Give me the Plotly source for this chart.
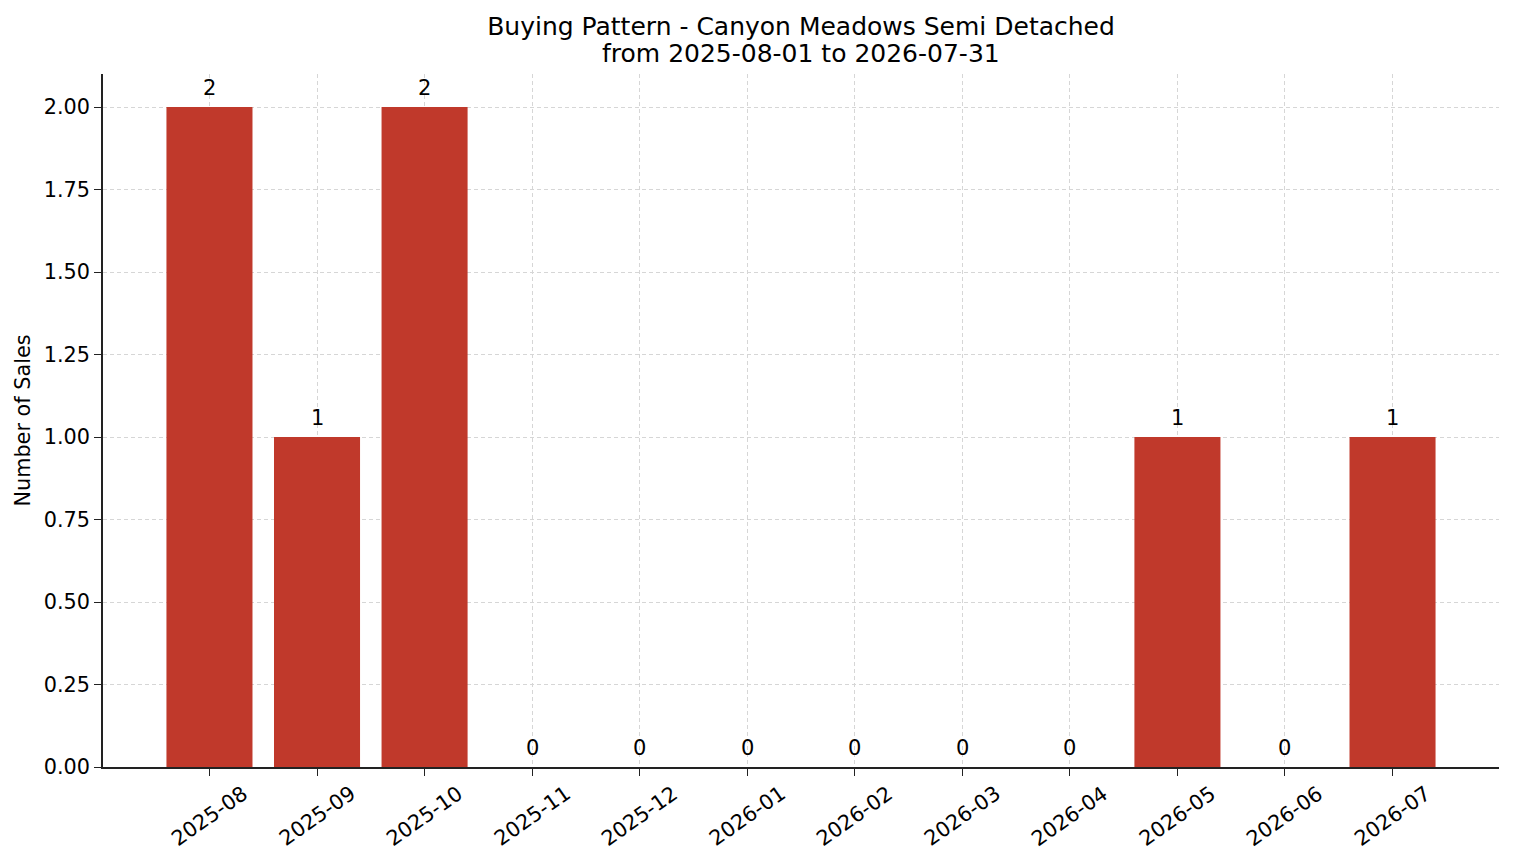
import plotly.graph_objects as go

# monthly sales counts
months = ["2025-08", "2025-09", "2025-10", "2025-11", "2025-12", "2026-01",
          "2026-02", "2026-03", "2026-04", "2026-05", "2026-06", "2026-07"]
sales = [2, 1, 2, 0, 0, 0, 0, 0, 0, 1, 0, 1]

title_line1 = "Buying Pattern - Canyon Meadows Semi Detached"
title_line2 = "from 2025-08-01 to 2026-07-31"

font = "DejaVu Sans"

fig = go.Figure()

fig.add_bar(x=months, y=sales, width=0.8, marker=dict(color="#c0392b", line=dict(width=0)),
            showlegend=False, hoverinfo="x+y")

# value labels above each bar
for m, v in zip(months, sales):
    fig.add_annotation(x=m, y=v, yref="y", text=str(v), showarrow=False,
                       xanchor="center", yanchor="bottom", yshift=5,
                       font=dict(family=font, size=21, color="black"))

# rotated month labels, centered under the ticks like matplotlib
for m in months:
    fig.add_annotation(x=m, y=0, yref="y", text=m, showarrow=False, textangle=-35,
                       xanchor="center", yanchor="middle", yshift=-49, xshift=0,
                       font=dict(family=font, size=20.8, color="black"))

# second title line (plotly's <br> line spacing is too loose)
fig.add_annotation(x=0.5, xref="paper", y=1, yref="paper", yshift=21, text=title_line2,
                   showarrow=False, xanchor="center", yanchor="middle",
                   font=dict(family=font, size=25, color="black"))

# page body has an 8px margin, so the figure is offset by that
fig.update_layout(
    width=1506, height=855,
    margin=dict(l=95, r=15, t=66, b=96),
    paper_bgcolor="white", plot_bgcolor="white",
    font=dict(family=font, size=20.8, color="black"),
    title=dict(text=title_line1, x=0.5, xanchor="center", xref="paper",
               y=1 - 18 / 855, yref="container", yanchor="middle",
               font=dict(family=font, size=25, color="black")),
    bargap=0.2,
)

grid = dict(showgrid=True, gridcolor="#d6d6d6", griddash="4px,3px", gridwidth=0.8,
            showline=True, linecolor="#222", linewidth=1.5,
            ticks="outside", ticklen=7, tickwidth=1.3, tickcolor="#222",
            layer="above traces", zeroline=False)

fig.update_xaxes(type="category", range=[-0.99, 11.99], showticklabels=False, **grid)

fig.update_yaxes(
    range=[0, 2.1], tickvals=[0, 0.25, 0.5, 0.75, 1.0, 1.25, 1.5, 1.75, 2.0],
    tickformat=".2f",
    title=dict(text="Number of Sales", font=dict(family=font, size=20.8), standoff=7),
    tickfont=dict(family=font, size=20.8),
    **grid,
)

fig.write_html("out.html")
